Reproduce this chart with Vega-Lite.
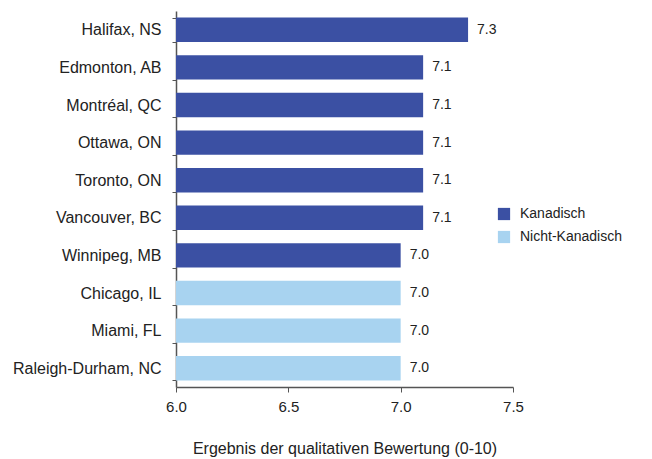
{
  "$schema": "https://vega.github.io/schema/vega-lite/v6.json",
  "autosize": "none",
  "padding": {"left": 176, "top": 11, "right": 139, "bottom": 72},
  "width": 337,
  "height": 376,
  "background": "white",
  "config": {
    "view": {"stroke": null},
    "font": "Liberation Sans",
    "axis": {"labelFont": "Liberation Sans", "titleFont": "Liberation Sans", "labelColor": "#222", "titleColor": "#222", "domainColor": "#555", "tickColor": "#555", "grid": false}
  },
  "data": {
    "values": [
      {"city": "Halifax, NS", "score": 7.3, "group": "Kanadisch"},
      {"city": "Edmonton, AB", "score": 7.1, "group": "Kanadisch"},
      {"city": "Montréal, QC", "score": 7.1, "group": "Kanadisch"},
      {"city": "Ottawa, ON", "score": 7.1, "group": "Kanadisch"},
      {"city": "Toronto, ON", "score": 7.1, "group": "Kanadisch"},
      {"city": "Vancouver, BC", "score": 7.1, "group": "Kanadisch"},
      {"city": "Winnipeg, MB", "score": 7.0, "group": "Kanadisch"},
      {"city": "Chicago, IL", "score": 7.0, "group": "Nicht-Kanadisch"},
      {"city": "Miami, FL", "score": 7.0, "group": "Nicht-Kanadisch"},
      {"city": "Raleigh-Durham, NC", "score": 7.0, "group": "Nicht-Kanadisch"}
    ]
  },
  "encoding": {
    "y": {
      "field": "city",
      "type": "nominal",
      "sort": null,
      "scale": {"paddingInner": 0.35, "paddingOuter": 0.175},
      "axis": {"title": null, "labelFontSize": 16, "labelPadding": 11, "tickSize": 4, "tickBand": "extent", "domainWidth": 1.5}
    },
    "x": {
      "field": "score",
      "type": "quantitative",
      "scale": {"domain": [6.0, 7.5], "zero": false, "nice": false},
      "axis": {"values": [6.0, 6.5, 7.0, 7.5], "format": ".1f", "labelFlush": false, "title": "Ergebnis der qualitativen Bewertung (0-10)", "titleFontSize": 16, "titleFontWeight": "normal", "titlePadding": 26, "labelFontSize": 15, "labelPadding": 7, "tickSize": 5, "domainWidth": 1.5}
    }
  },
  "layer": [
    {
      "mark": {"type": "bar"},
      "encoding": {
        "x2": {"datum": 6.0},
        "color": {
          "field": "group",
          "type": "nominal",
          "scale": {"domain": ["Kanadisch", "Nicht-Kanadisch"], "range": ["#3b50a3", "#a8d3f0"]},
          "legend": {"title": null, "orient": "none", "legendX": 321, "legendY": 196, "symbolType": "square", "symbolSize": 150, "symbolStrokeWidth": 0, "labelFontSize": 14, "labelColor": "#222", "rowPadding": 9, "labelOffset": 9}
        }
      }
    },
    {
      "mark": {"type": "text", "align": "left", "dx": 9, "fontSize": 14, "color": "#222"},
      "encoding": {"text": {"field": "score", "type": "quantitative", "format": ".1f"}}
    }
  ]
}
